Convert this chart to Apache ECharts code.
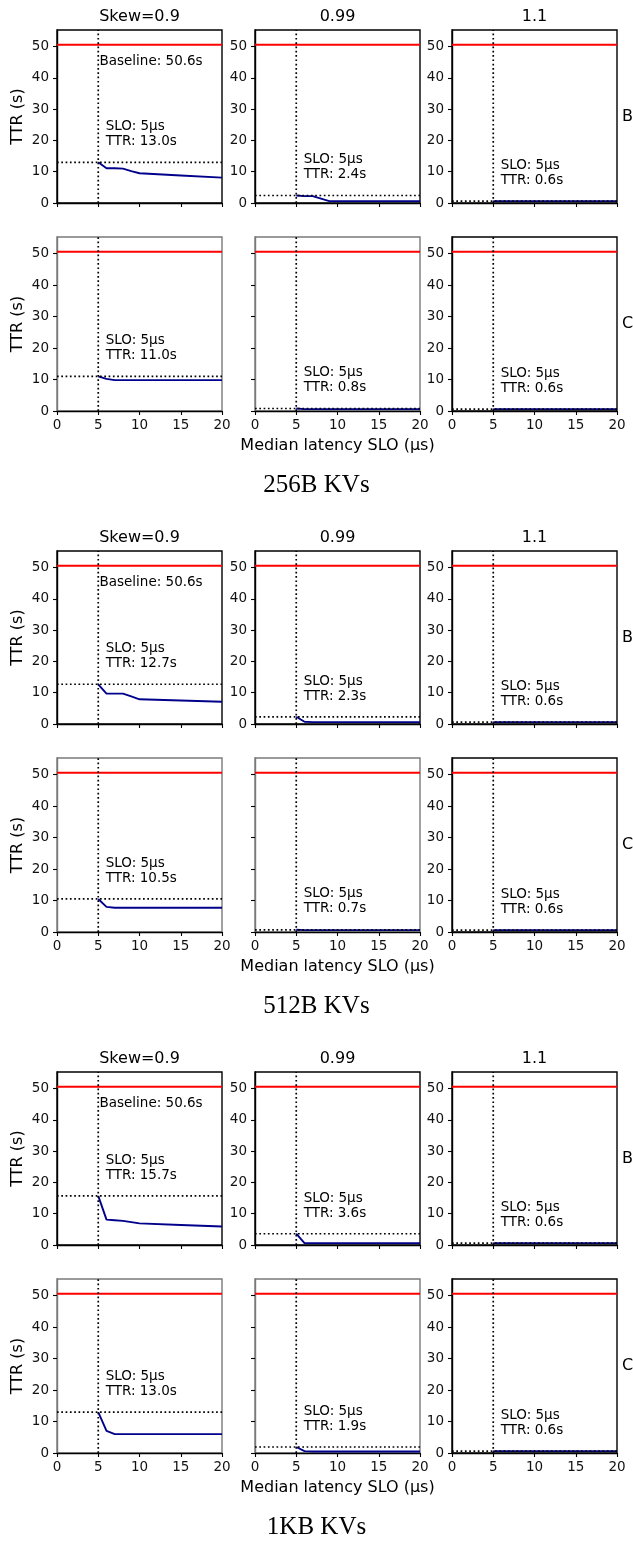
<!DOCTYPE html>
<html>
<head>
<meta charset="utf-8">
<script src="https://cdn.jsdelivr.net/npm/echarts@6/dist/echarts.min.js"></script>
<style>
  html, body { margin: 0; padding: 0; background: #fff; }
  #chart { width: 633px; height: 1541px; }
</style>
</head>
<body>
<div id="chart"></div>
<script>
// x axis: median latency SLO (us), y: time to recover (s)
const sizes = ['256B', '512B', '1KB'];
const workloads = ['B', 'C'];
const skews = ['Skew=0.9', '0.99', '1.1'];
const sloUs = [5, 6, 7, 8, 9, 10, 15, 20];
const xTicks = [0, 5, 10, 15, 20];
const yTicks = [0, 10, 20, 30, 40, 50];
const baselineTTR = 50.6;
const sloTarget = 5;

// one row per skew (0.9, 0.99, 1.1), values at sloUs
const ttr256B_B = [
  [13.0, 11.1, 11.1, 11.0, 10.2, 9.5, 8.8, 8.1],
  [2.4, 2.2, 2.2, 1.4, 0.6, 0.6, 0.6, 0.6],
  [0.6, 0.6, 0.6, 0.6, 0.6, 0.6, 0.6, 0.6]
];
const ttr256B_C = [
  [11.0, 10.2, 9.8, 9.8, 9.8, 9.8, 9.8, 9.8],
  [0.8, 0.6, 0.6, 0.6, 0.6, 0.6, 0.6, 0.6],
  [0.6, 0.6, 0.6, 0.6, 0.6, 0.6, 0.6, 0.6]
];
const ttr512B_B = [
  [12.7, 9.7, 9.7, 9.7, 8.8, 7.9, 7.5, 7.1],
  [2.3, 0.7, 0.6, 0.6, 0.6, 0.6, 0.6, 0.6],
  [0.6, 0.6, 0.6, 0.6, 0.6, 0.6, 0.6, 0.6]
];
const ttr512B_C = [
  [10.5, 8.0, 7.7, 7.7, 7.7, 7.7, 7.7, 7.7],
  [0.7, 0.6, 0.6, 0.6, 0.6, 0.6, 0.6, 0.6],
  [0.6, 0.6, 0.6, 0.6, 0.6, 0.6, 0.6, 0.6]
];
const ttr1KB_B = [
  [15.7, 8.1, 7.9, 7.7, 7.3, 6.9, 6.4, 5.9],
  [3.6, 0.6, 0.6, 0.6, 0.6, 0.6, 0.6, 0.6],
  [0.6, 0.6, 0.6, 0.6, 0.6, 0.6, 0.6, 0.6]
];
const ttr1KB_C = [
  [13.0, 7.0, 6.0, 6.0, 6.0, 6.0, 6.0, 6.0],
  [1.9, 0.6, 0.5, 0.5, 0.5, 0.5, 0.5, 0.5],
  [0.6, 0.6, 0.6, 0.6, 0.6, 0.6, 0.6, 0.6]
];
const ttrTables = [
  [ttr256B_B, ttr256B_C],
  [ttr512B_B, ttr512B_C],
  [ttr1KB_B, ttr1KB_C]
];

const FONT = 'DejaVu Sans';
const yMax = 55.3;
const colLeft = [57, 255, 452];
const panelW = 165;
const groupStep = 521;
const rowTop = [30, 237];
const rowH = [173, 174];

const grids = [], xAxes = [], yAxes = [], series = [], graphics = [];

const dotted = { color: '#000', width: 1.7, type: [1.7, 2.6] };

sizes.forEach(function (size, g) {
  const gTop = g * groupStep;
  skews.forEach(function (sk, c) {
    graphics.push({
      type: 'text', x: colLeft[c] + panelW / 2, y: gTop + 17,
      style: { text: sk, font: '16px "' + FONT + '"', fill: '#000', align: 'center', verticalAlign: 'middle' }
    });
  });
  workloads.forEach(function (wl, r) {
    const top = gTop + rowTop[r];
    graphics.push({
      type: 'text', x: 622, y: top + rowH[r] / 2,
      style: { text: wl, font: '16px "' + FONT + '"', fill: '#000', align: 'left', verticalAlign: 'middle' }
    });
    skews.forEach(function (sk, c) {
      const idx = grids.length;
      const vals = ttrTables[g][r][c];
      const ttrAtSlo = vals[sloUs.indexOf(sloTarget)];
      const frame = (r === 1 && c < 2) ? '#7a7a7a' : '#000';
      grids.push({
        left: colLeft[c], top: top, width: panelW, height: rowH[r],
        show: true, borderColor: frame, borderWidth: 1.4, backgroundColor: 'transparent'
      });
      xAxes.push({
        type: 'value', gridIndex: idx, min: 0, max: 20, interval: 5,
        axisLine: { show: true, lineStyle: { color: '#000', width: 1.4 } },
        axisTick: { show: true, length: 4, lineStyle: { color: '#000', width: 1.1 } },
        axisLabel: { show: r === 1, fontSize: 13.5, fontFamily: FONT, color: '#111', margin: 7 },
        splitLine: { show: false },
        name: (r === 1 && c === 1) ? 'Median latency SLO (µs)' : '',
        nameLocation: 'middle', nameGap: 27,
        nameTextStyle: { fontSize: 16, fontFamily: FONT, color: '#000' }
      });
      yAxes.push({
        type: 'value', gridIndex: idx, min: 0, max: yMax,
        axisLine: { show: true, lineStyle: { color: frame, width: 1.4 } },
        axisTick: { show: true, length: 4, customValues: yTicks, lineStyle: { color: '#000', width: 1.1 } },
        axisLabel: {
          show: r === 0 || c !== 1, customValues: yTicks,
          fontSize: 13.5, fontFamily: FONT, color: '#111', margin: 8
        },
        splitLine: { show: false },
        name: c === 0 ? 'TTR (s)' : '',
        nameLocation: 'middle', nameGap: 31,
        nameTextStyle: { fontSize: 16, fontFamily: FONT, color: '#000' }
      });
      // baseline
      series.push({
        type: 'line', xAxisIndex: idx, yAxisIndex: idx, symbol: 'none', silent: true, z: 2,
        data: [[xTicks[0], baselineTTR], [xTicks[xTicks.length - 1], baselineTTR]],
        lineStyle: { color: '#ff0000', width: 1.9 }
      });
      // TTR curve
      series.push({
        type: 'line', xAxisIndex: idx, yAxisIndex: idx, symbol: 'none', silent: true, z: 3,
        data: sloUs.map(function (x, i) { return [x, vals[i]]; }),
        lineStyle: { color: '#00008b', width: 1.9 }
      });
      // SLO marker lines
      series.push({
        type: 'line', xAxisIndex: idx, yAxisIndex: idx, symbol: 'none', silent: true, z: 4,
        data: [[sloTarget, 0], [sloTarget, yMax]], lineStyle: dotted
      });
      series.push({
        type: 'line', xAxisIndex: idx, yAxisIndex: idx, symbol: 'none', silent: true, z: 4,
        data: [[xTicks[0], ttrAtSlo], [xTicks[xTicks.length - 1], ttrAtSlo]], lineStyle: dotted
      });
      // annotation
      series.push({
        type: 'scatter', xAxisIndex: idx, yAxisIndex: idx, symbolSize: 0, silent: true, z: 5,
        itemStyle: { opacity: 1 },
        data: [[sloTarget + 0.9, ttrAtSlo + 9]],
        label: {
          show: true, position: 'right', distance: 0,
          formatter: 'SLO: ' + sloTarget + 'µs\nTTR: ' + ttrAtSlo.toFixed(1) + 's',
          fontSize: 13.5, fontFamily: FONT, color: '#000', lineHeight: 15
        }
      });
      if (r === 0 && c === 0) {
        series.push({
          type: 'scatter', xAxisIndex: idx, yAxisIndex: idx, symbolSize: 0, silent: true, z: 5,
          itemStyle: { opacity: 1 },
          data: [[sloTarget + 0.15, baselineTTR - 5.3]],
          label: {
            show: true, position: 'right', distance: 0,
            formatter: 'Baseline: ' + baselineTTR.toFixed(1) + 's',
            fontSize: 13.5, fontFamily: FONT, color: '#000'
          }
        });
      }
    });
  });
  graphics.push({
    type: 'text', x: 316.5, y: gTop + 485,
    style: { text: size + ' KVs', font: '25px "Liberation Serif"', fill: '#000', align: 'center', verticalAlign: 'middle' }
  });
});

const chart = echarts.init(document.getElementById('chart'));
chart.setOption({
  animation: false,
  backgroundColor: '#fff',
  grid: grids,
  xAxis: xAxes,
  yAxis: yAxes,
  series: series,
  graphic: graphics
});
</script>
</body>
</html>
